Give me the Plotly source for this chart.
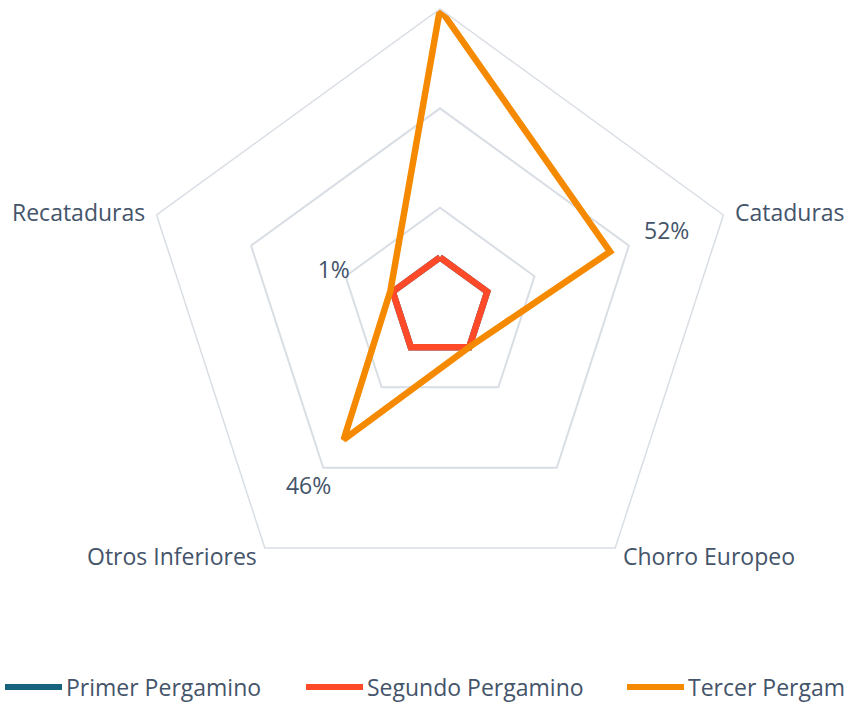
import math
import plotly.graph_objects as go

# ---- data ----
categories = [" ", "Cataduras", "Chorro Europeo", "Otros Inferiores", "Recataduras"]
series_names = ["Primer Pergamino", "Segundo Pergamino", "Tercer Pergamino"]
primer = [0, 0, 0, 0, 0]
segundo = [0, 0, 0, 0, 0]
tercer = [100, 52, 0, 46, 1]
tercer_labels = ["", "52%", "", "46%", "1%"]
radial_range = [-20, 100]
grid_values = [20, 60]

# ---- style ----
colors = ["#17627C", "#FF4A2A", "#F58A00"]
text_color = "#44546A"
grid_color = "#D9DEE5"
font_family = "Open Sans"
font_size = 23
label_offset = 24       # radial offset of data labels (axis units)
cat_label_gap = 10      # px gap between outer vertex and category label

W, H = 845, 702
cx, cy, R = 440, 307, 298   # polar centre / radius in px

fig = go.Figure()

for name, vals, col in zip(series_names, [primer, segundo, tercer], colors):
    fig.add_trace(go.Scatterpolar(
        r=vals + vals[:1],
        theta=categories + categories[:1],
        mode="lines",
        name=name,
        line=dict(color=col, width=6.5),
        showlegend=False,
    ))

# data labels for Tercer Pergamino
lab_r = [v + label_offset for v, t in zip(tercer, tercer_labels) if t]
lab_t = [c for c, t in zip(categories, tercer_labels) if t]
lab_s = [t for t in tercer_labels if t]
fig.add_trace(go.Scatterpolar(
    r=lab_r, theta=lab_t, text=lab_s, mode="text",
    textfont=dict(family=font_family, size=font_size, color=text_color),
    showlegend=False, hoverinfo="skip",
))

fig.update_layout(
    width=W, height=H,
    margin=dict(l=0, r=0, t=0, b=0, pad=0, autoexpand=False),
    paper_bgcolor="white",
    font=dict(family=font_family, size=font_size, color=text_color),
    polar=dict(
        domain=dict(x=[(cx - R) / W, (cx + R) / W], y=[(H - cy - R) / H, (H - cy + R) / H]),
        bgcolor="white",
        gridshape="linear",
        angularaxis=dict(
            direction="clockwise", rotation=90,
            showgrid=False, showline=True, linecolor=grid_color, linewidth=1.5,
            ticks="", showticklabels=False,
        ),
        radialaxis=dict(
            range=radial_range, tickvals=grid_values, showticklabels=False,
            showline=False, gridcolor=grid_color, gridwidth=1.5, ticks="",
        ),
    ),
    showlegend=False,
)

# category labels placed just outside the outer ring vertices
n = len(categories)
for i, cat in enumerate(categories):
    if not cat.strip():
        continue
    ang = math.radians(90 - 360 * i / n)
    rr = R + cat_label_gap
    px = cx + rr * math.cos(ang)
    py = cy - rr * math.sin(ang)
    fig.add_annotation(xref="paper", yref="paper", x=px / W, y=(H - py) / H,
                       xanchor="left" if math.cos(ang) > 0 else "right",
                       yanchor="middle", showarrow=False, text=cat,
                       font=dict(family=font_family, size=font_size, color=text_color))

# manual legend (long line symbols, one row, last entry runs off the right edge)
leg_y = 687
leg_x = [5, 306, 627]
sym_len = 57
for x0, name, col in zip(leg_x, series_names, colors):
    fig.add_shape(type="line", xref="paper", yref="paper",
                  x0=x0 / W, x1=(x0 + sym_len) / W,
                  y0=(H - leg_y) / H, y1=(H - leg_y) / H,
                  line=dict(color=col, width=6))
    fig.add_annotation(xref="paper", yref="paper",
                       x=(x0 + sym_len + 2) / W, y=(H - leg_y) / H,
                       xanchor="left", yanchor="middle", showarrow=False,
                       text=name, font=dict(family=font_family, size=font_size, color=text_color))

fig.write_html("out.html", config={"displayModeBar": False},
               post_script="document.body.style.margin='0';")
